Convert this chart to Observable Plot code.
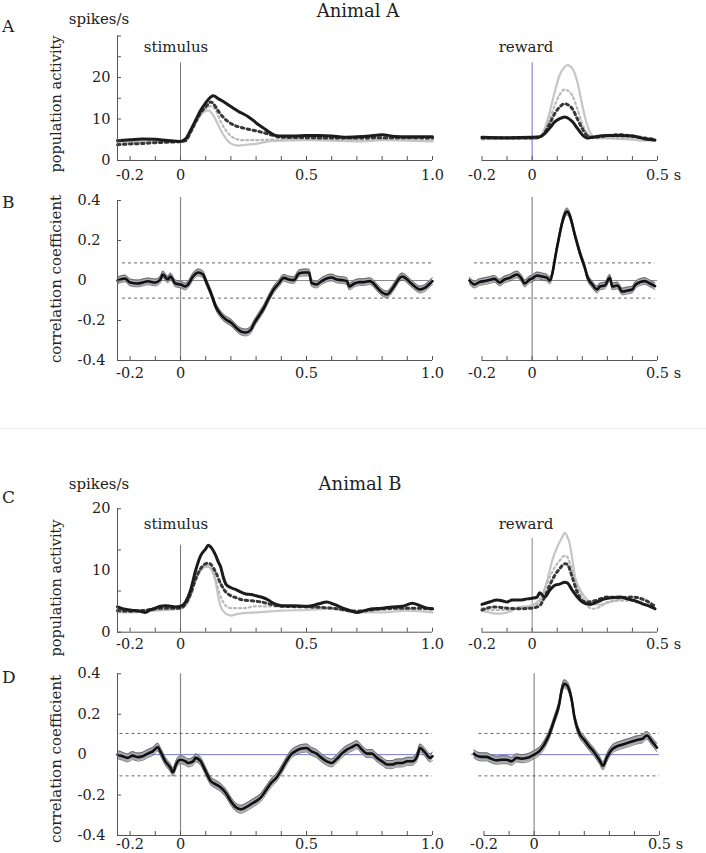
<!DOCTYPE html>
<html><head><meta charset="utf-8">
<script src="https://cdn.jsdelivr.net/npm/d3@7"></script>
<script src="https://cdn.jsdelivr.net/npm/@observablehq/plot@0.6"></script>
<style>
body{margin:0;background:#fff;}
#fig{position:relative;width:706px;height:853px;overflow:hidden;font-family:'DejaVu Serif',serif;color:#222;}
.lbl{position:absolute;white-space:nowrap;line-height:1;}
#fig svg{overflow:visible;}
</style></head><body><div id="fig"></div>
<script>
// ---------------- DATA ----------------
const stimXDomain = [-0.25, 1.0];
const rewXDomain = [-0.2, 0.5];
const stimXTicks = [-0.2,-0.1,0,0.1,0.2,0.3,0.4,0.5,0.6,0.7,0.8,0.9,1.0];
const rewXTicks = [-0.2,-0.1,0,0.1,0.2,0.3,0.4,0.5];
const stimXLabels = [-0.2, 0, 0.5, 1.0];
const rewXLabels = [-0.2, 0];
const rewXLabelUnit = [0.5];
const actADomain = [0, 30];
const actATicks = [0,5,10,15,20,25,30];
const actCDomain = [0, 20];
const actCTicks = [0, 6.67, 13.33, 20];
const actLabels = [0, 10, 20];
const corrDomain = [-0.4, 0.4];
const corrTicks = [-0.4,-0.2,0,0.2,0.4];
const corrLabels = [-0.4,-0.2,0,0.2,0.4];

// Animal A, population activity, stimulus-aligned (t, spikes/s)
const aStimSolidDark = [[-0.25,4.8],[-0.2,5.0],[-0.15,5.2],[-0.1,5.1],[-0.05,4.8],[0,4.6],[0.02,5.2],[0.04,7.3],[0.06,9.7],[0.08,12.1],[0.1,13.9],[0.12,15.3],[0.13,15.6],[0.15,14.9],[0.17,14.2],[0.19,13.4],[0.21,12.6],[0.23,11.8],[0.25,11.2],[0.27,10.5],[0.29,9.6],[0.31,8.6],[0.33,7.8],[0.35,6.9],[0.37,6.2],[0.39,5.9],[0.45,5.9],[0.5,6.0],[0.55,6.0],[0.6,5.9],[0.65,5.6],[0.7,5.7],[0.75,5.9],[0.8,6.2],[0.85,5.8],[0.9,5.7],[0.95,5.7],[1.0,5.7]];
const aStimDottedDark = [[-0.25,3.8],[-0.2,4.0],[-0.15,4.1],[-0.1,4.3],[-0.05,4.4],[0,4.6],[0.02,4.8],[0.04,6.9],[0.06,9.3],[0.08,11.5],[0.1,12.9],[0.12,14.1],[0.13,13.7],[0.15,11.9],[0.17,10.4],[0.19,9.3],[0.21,8.6],[0.25,7.8],[0.28,7.4],[0.33,6.7],[0.37,6.0],[0.4,5.6],[0.5,5.5],[0.6,5.4],[0.7,5.4],[0.8,5.5],[0.9,5.5],[1.0,5.4]];
const aStimDottedLight = [[-0.25,4.4],[-0.1,4.5],[0,4.6],[0.02,4.8],[0.04,6.7],[0.06,9.1],[0.08,11.3],[0.1,12.5],[0.12,13.1],[0.14,12.1],[0.16,9.3],[0.18,7.3],[0.2,5.9],[0.22,5.2],[0.25,4.9],[0.3,4.9],[0.35,5.0],[0.4,5.1],[0.5,5.2],[0.6,5.1],[0.7,5.0],[0.8,5.1],[0.9,5.1],[1.0,5.0]];
const aStimSolidLight = [[-0.25,4.6],[-0.2,4.6],[-0.1,4.8],[0,4.4],[0.02,4.6],[0.04,6.5],[0.06,8.9],[0.08,10.9],[0.1,11.9],[0.11,12.1],[0.13,10.9],[0.15,8.5],[0.17,6.2],[0.19,4.6],[0.21,3.8],[0.23,3.6],[0.26,3.8],[0.3,4.0],[0.35,4.6],[0.4,4.8],[0.5,4.9],[0.6,4.8],[0.7,4.6],[0.8,4.9],[0.9,4.8],[1.0,4.6]];

// Animal A, population activity, reward-aligned
const aRewSolidDark = [[-0.2,5.6],[-0.1,5.5],[0,5.6],[0.03,5.7],[0.05,6.5],[0.07,7.8],[0.09,9.3],[0.11,10.1],[0.13,10.5],[0.14,10.3],[0.16,9.4],[0.18,7.8],[0.2,6.2],[0.22,5.4],[0.24,5.6],[0.3,6.0],[0.35,6.0],[0.4,5.9],[0.45,5.2],[0.49,4.9]];
const aRewDottedDark = [[-0.2,5.4],[-0.1,5.4],[0,5.4],[0.03,5.6],[0.05,6.7],[0.07,8.9],[0.09,11.3],[0.11,12.9],[0.13,13.7],[0.14,13.5],[0.16,12.5],[0.18,10.1],[0.2,7.7],[0.22,6.0],[0.24,5.6],[0.3,6.0],[0.35,6.2],[0.4,5.9],[0.45,5.4],[0.49,5.1]];
const aRewDottedLight = [[-0.2,5.1],[-0.1,5.2],[0,5.2],[0.03,5.6],[0.05,7.3],[0.07,10.1],[0.09,13.3],[0.11,15.9],[0.13,17.1],[0.14,16.9],[0.16,15.7],[0.18,12.5],[0.2,8.9],[0.22,6.5],[0.24,5.4],[0.3,5.4],[0.4,5.4],[0.49,5.1]];
const aRewSolidLight = [[-0.2,5.2],[-0.1,5.2],[0,5.2],[0.03,5.6],[0.05,7.7],[0.07,11.7],[0.09,16.5],[0.11,20.6],[0.13,22.6],[0.14,23.0],[0.16,22.2],[0.18,19.0],[0.2,13.3],[0.22,8.5],[0.24,6.0],[0.26,5.4],[0.3,5.4],[0.35,5.2],[0.4,5.0],[0.45,4.8],[0.49,5.2]];

// Animal A, correlation coefficient (t, r)
const bStim = [[-0.25,0],[-0.22,0.01],[-0.2,-0.01],[-0.17,-0.015],[-0.15,-0.01],[-0.13,-0.004],[-0.1,-0.01],[-0.08,0.005],[-0.07,0.03],[-0.05,0.005],[-0.04,0.02],[-0.02,-0.015],[0,-0.02],[0.02,-0.03],[0.03,-0.02],[0.05,0.02],[0.07,0.04],[0.09,0.03],[0.1,0],[0.12,-0.06],[0.14,-0.13],[0.16,-0.17],[0.18,-0.195],[0.2,-0.21],[0.22,-0.235],[0.24,-0.255],[0.26,-0.26],[0.28,-0.245],[0.29,-0.22],[0.31,-0.18],[0.33,-0.14],[0.35,-0.09],[0.37,-0.045],[0.39,-0.015],[0.41,0.013],[0.43,0.005],[0.45,0.002],[0.47,0.035],[0.49,0.04],[0.51,0.04],[0.52,-0.012],[0.54,-0.02],[0.56,-0.003],[0.58,0.01],[0.6,0.015],[0.62,0.005],[0.64,0.002],[0.66,-0.003],[0.67,-0.03],[0.69,-0.015],[0.71,-0.008],[0.73,-0.008],[0.75,-0.003],[0.76,-0.008],[0.78,-0.035],[0.8,-0.06],[0.82,-0.07],[0.83,-0.06],[0.85,-0.025],[0.87,0.013],[0.88,0.02],[0.9,0.005],[0.91,-0.008],[0.93,-0.03],[0.95,-0.045],[0.97,-0.037],[0.99,-0.015],[1.0,-0.003]];
const bRew = [[-0.25,0],[-0.23,-0.02],[-0.21,-0.008],[-0.19,-0.003],[-0.17,0.002],[-0.15,0.008],[-0.13,-0.01],[-0.11,0.005],[-0.09,0.013],[-0.06,0.03],[-0.04,0.005],[-0.03,-0.015],[-0.01,0.005],[0,0.01],[0.02,0.025],[0.04,0.02],[0.06,0.013],[0.07,0],[0.1,0.17],[0.12,0.29],[0.13,0.33],[0.14,0.345],[0.15,0.325],[0.17,0.23],[0.19,0.14],[0.21,0.065],[0.22,0.02],[0.24,-0.02],[0.26,-0.045],[0.27,-0.03],[0.29,-0.025],[0.31,0.013],[0.32,-0.03],[0.34,-0.025],[0.36,-0.055],[0.38,-0.05],[0.4,-0.045],[0.41,-0.025],[0.43,-0.008],[0.45,-0.003],[0.47,-0.015],[0.49,-0.028]];
const bSem = 0.017;
const bThreshold = 0.088;
const bStimRange = [-0.25, 1.0];
const bStimThrRange = [-0.23, 1.0];
const bRewRange = [-0.25, 0.5];
const bRewThrRange = [-0.23, 0.49];

// Animal B, population activity, stimulus-aligned
const cStimSolidDark = [[-0.25,4.1],[-0.23,3.8],[-0.2,3.6],[-0.18,3.5],[-0.16,3.4],[-0.14,3.2],[-0.12,3.6],[-0.1,3.9],[-0.08,4.2],[-0.06,4.3],[-0.04,4.2],[-0.02,4.1],[0,4.2],[0.02,4.9],[0.04,6.8],[0.06,10.0],[0.08,12.4],[0.1,13.5],[0.11,14.1],[0.12,13.8],[0.14,12.4],[0.15,11.4],[0.16,10.5],[0.17,8.9],[0.18,7.8],[0.2,7.2],[0.22,6.9],[0.24,6.5],[0.26,6.2],[0.28,6.1],[0.3,5.9],[0.32,5.7],[0.34,5.4],[0.36,4.9],[0.38,4.5],[0.4,4.3],[0.45,4.3],[0.5,4.2],[0.55,4.6],[0.58,4.9],[0.61,4.5],[0.65,3.8],[0.68,3.4],[0.7,3.2],[0.73,3.5],[0.76,3.8],[0.8,3.9],[0.84,4.1],[0.88,4.2],[0.92,4.7],[0.95,4.3],[0.98,3.9],[1.0,3.8]];
const cStimDottedDark = [[-0.25,3.5],[-0.2,3.4],[-0.15,3.5],[-0.1,3.8],[-0.05,3.9],[0,3.9],[0.02,4.6],[0.04,6.2],[0.06,8.6],[0.08,10.3],[0.1,11.1],[0.11,11.2],[0.12,11.0],[0.14,9.7],[0.16,7.8],[0.18,6.5],[0.2,5.9],[0.22,5.6],[0.25,5.2],[0.28,5.1],[0.32,4.9],[0.36,4.5],[0.4,4.2],[0.5,4.1],[0.6,3.9],[0.7,3.4],[0.8,3.8],[0.9,3.9],[1.0,3.8]];
const cStimDottedLight = [[-0.25,3.4],[-0.1,3.6],[0,3.9],[0.02,4.5],[0.04,6.1],[0.06,8.5],[0.08,10.2],[0.1,10.8],[0.12,10.5],[0.14,8.4],[0.16,5.7],[0.18,4.3],[0.2,3.9],[0.25,3.9],[0.3,4.2],[0.4,4.2],[0.5,4.1],[0.6,3.9],[0.7,3.5],[0.8,3.6],[0.9,3.8],[1.0,3.6]];
const cStimSolidLight = [[-0.25,3.2],[-0.2,3.2],[-0.1,3.5],[0,3.8],[0.02,4.3],[0.04,5.9],[0.06,8.4],[0.08,10.0],[0.1,10.6],[0.11,10.6],[0.12,10.3],[0.14,8.1],[0.15,5.7],[0.16,4.1],[0.18,3.0],[0.2,2.7],[0.22,2.9],[0.25,3.1],[0.3,3.2],[0.4,3.5],[0.5,3.6],[0.6,3.8],[0.7,3.2],[0.8,3.2],[0.9,3.5],[1.0,3.2]];

// Animal B, population activity, reward-aligned
const cRewSolidDark = [[-0.2,4.5],[-0.17,4.9],[-0.14,5.2],[-0.12,5.1],[-0.1,4.9],[-0.08,5.2],[-0.05,5.2],[-0.02,5.4],[0,5.5],[0.02,5.7],[0.03,6.4],[0.05,5.7],[0.07,6.8],[0.09,7.6],[0.11,7.8],[0.13,8.1],[0.14,8.0],[0.16,6.8],[0.18,5.7],[0.2,4.9],[0.23,4.5],[0.26,4.9],[0.29,5.4],[0.32,5.6],[0.35,5.7],[0.38,5.4],[0.41,5.1],[0.44,4.6],[0.47,4.2],[0.49,3.8]];
const cRewDottedDark = [[-0.2,3.6],[-0.15,4.1],[-0.1,3.9],[-0.05,3.8],[0,3.9],[0.03,4.3],[0.05,5.7],[0.07,7.6],[0.09,9.2],[0.11,10.3],[0.13,11.1],[0.14,11.0],[0.16,8.9],[0.18,6.5],[0.2,5.1],[0.22,4.9],[0.25,5.1],[0.3,5.7],[0.35,5.6],[0.4,5.7],[0.45,5.2],[0.49,4.2]];
const cRewDottedLight = [[-0.2,3.9],[-0.15,3.6],[-0.1,3.6],[-0.05,3.9],[0,4.2],[0.03,4.9],[0.05,6.8],[0.07,8.9],[0.09,10.5],[0.11,11.6],[0.13,12.4],[0.14,12.2],[0.16,10.0],[0.18,7.3],[0.2,5.7],[0.22,4.3],[0.24,3.8],[0.27,4.1],[0.3,4.9],[0.35,5.1],[0.4,5.1],[0.45,4.6],[0.49,4.2]];
const cRewSolidLight = [[-0.2,3.5],[-0.17,3.2],[-0.14,3.0],[-0.11,3.1],[-0.08,3.5],[-0.05,4.1],[-0.02,4.2],[0.01,4.6],[0.04,5.9],[0.06,8.4],[0.08,11.6],[0.1,13.8],[0.12,15.4],[0.13,16.1],[0.14,15.5],[0.15,14.3],[0.16,11.9],[0.17,9.2],[0.19,7.0],[0.21,5.7],[0.23,4.9],[0.25,4.5],[0.28,4.5],[0.31,4.9],[0.34,5.2],[0.37,5.4],[0.4,5.1],[0.43,4.9],[0.46,4.3],[0.49,3.9]];

// Animal B, correlation coefficient
const dStim = [[-0.25,0],[-0.23,-0.008],[-0.21,-0.016],[-0.19,-0.005],[-0.17,-0.012],[-0.15,-0.008],[-0.13,0.005],[-0.11,0.016],[-0.09,0.037],[-0.08,0.016],[-0.06,-0.033],[-0.04,-0.065],[-0.03,-0.087],[-0.02,-0.057],[-0.01,-0.033],[0,-0.025],[0.02,-0.033],[0.03,-0.041],[0.05,-0.033],[0.06,-0.016],[0.08,-0.033],[0.1,-0.082],[0.12,-0.13],[0.14,-0.147],[0.16,-0.163],[0.18,-0.19],[0.2,-0.23],[0.22,-0.26],[0.24,-0.27],[0.26,-0.26],[0.28,-0.245],[0.3,-0.23],[0.32,-0.21],[0.34,-0.175],[0.36,-0.14],[0.38,-0.115],[0.4,-0.077],[0.42,-0.033],[0.44,0.003],[0.46,0.02],[0.48,0.03],[0.5,0.033],[0.52,0.016],[0.54,0.005],[0.56,-0.016],[0.58,-0.033],[0.6,-0.041],[0.62,-0.021],[0.64,0.005],[0.66,0.025],[0.68,0.037],[0.7,0.049],[0.72,0.025],[0.74,0.005],[0.76,0.005],[0.78,-0.016],[0.8,-0.033],[0.82,-0.049],[0.84,-0.049],[0.86,-0.041],[0.88,-0.041],[0.9,-0.033],[0.92,-0.033],[0.94,-0.005],[0.95,0.033],[0.97,0.011],[0.99,-0.016],[1.0,-0.008]];
const dRew = [[-0.24,0.005],[-0.23,-0.005],[-0.21,-0.011],[-0.19,-0.011],[-0.17,-0.021],[-0.15,-0.028],[-0.13,-0.025],[-0.11,-0.025],[-0.09,-0.033],[-0.07,-0.016],[-0.05,-0.02],[-0.02,-0.013],[0,0],[0.02,0.016],[0.04,0.049],[0.06,0.098],[0.08,0.17],[0.1,0.25],[0.11,0.32],[0.12,0.35],[0.13,0.345],[0.15,0.27],[0.16,0.19],[0.18,0.106],[0.2,0.073],[0.22,0.04],[0.24,0.011],[0.26,-0.025],[0.275,-0.055],[0.29,-0.015],[0.31,0.025],[0.33,0.041],[0.35,0.049],[0.37,0.057],[0.39,0.065],[0.41,0.073],[0.43,0.077],[0.45,0.095],[0.47,0.065],[0.49,0.035]];
const dSem = 0.02;
const dThreshold = 0.105;
const dStimRange = [-0.25, 1.0];
const dStimThrRange = [-0.24, 1.0];
const dRewRange = [-0.25, 0.5];
const dRewThrRange = [-0.22, 0.5];

// ---------------- DRAWING ----------------
const fig = document.getElementById("fig");
const FONT = "'DejaVu Serif', serif";
const AXIS = "#555";
const T = d => d[0], V = d => d[1];
const fmt = d => d === 0 ? "0" : (Number.isInteger(d) && Math.abs(d) >= 10 ? String(d) : d.toFixed(1));

const seriesStyle = {
  solidLight:  {stroke: "#c6c6c6", strokeWidth: 2.2},
  dottedLight: {stroke: "#b9b9b9", strokeWidth: 2.2, strokeDasharray: "2,3"},
  dottedDark:  {stroke: "#383838", strokeWidth: 3, strokeDasharray: "2.5,3.5"},
  solidDark:   {stroke: "#1c1c1c", strokeWidth: 3}
};

function mount(cfg, marks) {
  const {frame, box} = cfg;
  const svg = Plot.plot({
    width: box.right - box.left,
    height: box.bottom - box.top,
    marginLeft: frame.x0 - box.left,
    marginRight: box.right - frame.x1,
    marginTop: frame.y0 - box.top,
    marginBottom: box.bottom - frame.y1,
    x: {domain: cfg.xDomain, axis: null},
    y: {domain: cfg.yDomain, axis: null},
    style: {fontFamily: FONT, fontSize: "14.5px", background: "transparent", color: "#222"},
    marks
  });
  svg.style.position = "absolute";
  svg.style.left = box.left + "px";
  svg.style.top = box.top + "px";
  fig.appendChild(svg);
}

function axisMarks(cfg) {
  const [x0, x1] = cfg.xDomain, [y0, y1] = cfg.yDomain;
  const m = [];
  m.push(Plot.ruleY([y0], {x1: x0, x2: x1, stroke: AXIS, strokeWidth: 1}));
  m.push(Plot.ruleX(cfg.xTicks, {x: d => d, y1: y0, y2: y0, insetBottom: 4, stroke: AXIS, strokeWidth: 1}));
  m.push(Plot.axisX({ticks: cfg.xLabels, tickSize: 0, tickPadding: cfg.xPad, tickFormat: fmt, label: null}));
  if (cfg.unitLabel) {
    m.push(Plot.axisX({ticks: cfg.unitLabel, tickSize: 0, tickPadding: cfg.xPad, tickFormat: d => fmt(d) + " s", textAnchor: "start", dx: -11.5, label: null}));
  }
  if (cfg.yAxis) {
    m.push(Plot.ruleX([x0], {y1: y0, y2: y1, stroke: AXIS, strokeWidth: 1}));
    m.push(Plot.ruleY(cfg.yTicks, {y: d => d, x1: x0, x2: x0, insetLeft: 4, stroke: AXIS, strokeWidth: 1}));
    if (cfg.yLabelStart) {
      m.push(Plot.axisY({ticks: cfg.yLabels, tickSize: 0, tickPadding: 0, textAnchor: "start", dx: -40, tickFormat: fmt, label: null}));
    } else {
      m.push(Plot.axisY({ticks: cfg.yLabels, tickSize: 0, tickPadding: 7, tickFormat: fmt, label: null}));
    }
  } else {
    m.push(Plot.axisY({ticks: [], label: null}));
  }
  return m;
}

function activityPanel(cfg, series) {
  const marks = [
    Plot.ruleX([0], {y1: cfg.yDomain[0], y2: cfg.zeroTop, stroke: cfg.zeroColor, strokeWidth: 1})
  ];
  for (const [name, data] of series) {
    marks.push(Plot.line(data, {x: T, y: V, curve: "monotone-x", ...seriesStyle[name]}));
  }
  mount(cfg, marks.concat(axisMarks(cfg)));
}

function corrPanel(cfg) {
  const s = cfg.sem;
  const marks = [
    Plot.ruleY([0], {x1: cfg.range[0], x2: cfg.range[1], stroke: cfg.zeroColor, strokeWidth: 1}),
    Plot.ruleX([0], {y1: cfg.yDomain[0], y2: cfg.vTop, stroke: "#8a8a8a", strokeWidth: 1.2}),
    Plot.ruleY([cfg.thr, -cfg.thr], {x1: cfg.thrRange[0], x2: cfg.thrRange[1], stroke: "#555", strokeWidth: 0.9, strokeDasharray: "3,3"}),
    Plot.areaY(cfg.data, {x: T, y1: d => d[1] - s, y2: d => d[1] + s, fill: "#a8a8b0", curve: "monotone-x"}),
    Plot.line(cfg.data, {x: T, y: d => d[1] + s, stroke: "#4a4a4a", strokeWidth: 0.7, curve: "monotone-x"}),
    Plot.line(cfg.data, {x: T, y: d => d[1] - s, stroke: "#4a4a4a", strokeWidth: 0.7, curve: "monotone-x"}),
    Plot.line(cfg.data, {x: T, y: V, stroke: "#111", strokeWidth: 2.6, curve: "monotone-x"})
  ];
  mount(cfg, marks.concat(axisMarks(cfg)));
}

const leftBox = {left: 55, right: 447};
const rightBox = {left: 447, right: 706};
const leftX = {x0: 117, x1: 432};
const rightX = {x0: 481.5, x1: 657};

// Row A
const rowA = {top: 28, bottom: 190, y0: 35.5, y1: 160};
activityPanel({
  box: {...leftBox, top: rowA.top, bottom: rowA.bottom}, frame: {...leftX, y0: rowA.y0, y1: rowA.y1},
  xDomain: stimXDomain, yDomain: actADomain, xTicks: stimXTicks, xLabels: stimXLabels, xPad: 9,
  yAxis: true, yTicks: actATicks, yLabels: actLabels, zeroTop: 23.5, zeroColor: "#777"
}, [["solidLight", aStimSolidLight], ["dottedLight", aStimDottedLight], ["dottedDark", aStimDottedDark], ["solidDark", aStimSolidDark]]);
activityPanel({
  box: {...rightBox, top: rowA.top, bottom: rowA.bottom}, frame: {...rightX, y0: rowA.y0, y1: rowA.y1},
  xDomain: rewXDomain, yDomain: actADomain, xTicks: rewXTicks, xLabels: rewXLabels, unitLabel: rewXLabelUnit, xPad: 9,
  yAxis: false, zeroTop: 23.5, zeroColor: "#6c6cd2"
}, [["solidLight", aRewSolidLight], ["dottedLight", aRewDottedLight], ["dottedDark", aRewDottedDark], ["solidDark", aRewSolidDark]]);

// Row B
const rowB = {top: 190, bottom: 392, y0: 200, y1: 360};
corrPanel({
  box: {...leftBox, top: rowB.top, bottom: rowB.bottom}, frame: {...leftX, y0: rowB.y0, y1: rowB.y1},
  xDomain: stimXDomain, yDomain: corrDomain, xTicks: stimXTicks, xLabels: stimXLabels, xPad: 7.5,
  yAxis: true, yTicks: corrTicks, yLabels: corrLabels, yLabelStart: true,
  data: bStim, sem: bSem, thr: bThreshold, range: bStimRange, thrRange: bStimThrRange, vTop: 0.415, zeroColor: "#8a8a8a"
});
corrPanel({
  box: {...rightBox, top: rowB.top, bottom: rowB.bottom}, frame: {...rightX, y0: rowB.y0, y1: rowB.y1},
  xDomain: rewXDomain, yDomain: corrDomain, xTicks: rewXTicks, xLabels: rewXLabels, unitLabel: rewXLabelUnit, xPad: 7.5,
  yAxis: false,
  data: bRew, sem: bSem, thr: bThreshold, range: bRewRange, thrRange: bRewThrRange, vTop: 0.415, zeroColor: "#8a8a8a"
});

// Row C
const rowC = {top: 498, bottom: 662, y0: 508.3, y1: 631.7};
activityPanel({
  box: {...leftBox, top: rowC.top, bottom: rowC.bottom}, frame: {...leftX, y0: rowC.y0, y1: rowC.y1},
  xDomain: stimXDomain, yDomain: actCDomain, xTicks: stimXTicks, xLabels: stimXLabels, xPad: 7,
  yAxis: true, yTicks: actCTicks, yLabels: actLabels, zeroTop: 14.1, zeroColor: "#777"
}, [["solidLight", cStimSolidLight], ["dottedLight", cStimDottedLight], ["dottedDark", cStimDottedDark], ["solidDark", cStimSolidDark]]);
activityPanel({
  box: {...rightBox, top: rowC.top, bottom: rowC.bottom}, frame: {...rightX, y0: rowC.y0, y1: rowC.y1},
  xDomain: rewXDomain, yDomain: actCDomain, xTicks: rewXTicks, xLabels: rewXLabels, unitLabel: rewXLabelUnit, xPad: 7,
  yAxis: false, zeroTop: 15.2, zeroColor: "#888"
}, [["solidLight", cRewSolidLight], ["dottedLight", cRewDottedLight], ["dottedDark", cRewDottedDark], ["solidDark", cRewSolidDark]]);

// Row D
const rowD = {top: 663, bottom: 853, y0: 673.3, y1: 835};
corrPanel({
  box: {...leftBox, top: rowD.top, bottom: rowD.bottom}, frame: {...leftX, y0: rowD.y0, y1: rowD.y1},
  xDomain: stimXDomain, yDomain: corrDomain, xTicks: stimXTicks, xLabels: stimXLabels, xPad: 3.5,
  yAxis: true, yTicks: corrTicks, yLabels: corrLabels, yLabelStart: true,
  data: dStim, sem: dSem, thr: dThreshold, range: dStimRange, thrRange: dStimThrRange, vTop: 0.4, zeroColor: "#7a7ad8"
});
corrPanel({
  box: {left: 449, right: 706, top: rowD.top, bottom: rowD.bottom}, frame: {x0: 483.5, x1: 659, y0: rowD.y0, y1: rowD.y1},
  xDomain: rewXDomain, yDomain: corrDomain, xTicks: rewXTicks, xLabels: rewXLabels, unitLabel: rewXLabelUnit, xPad: 3.5,
  yAxis: false,
  data: dRew, sem: dSem, thr: dThreshold, range: dRewRange, thrRange: dRewThrRange, vTop: 0.4, zeroColor: "#7a7ad8"
});

// ---------------- TEXT ----------------
function label(text, {x, y, size = 15, anchor = "middle", rotate = false}) {
  const d = document.createElement("div");
  d.className = "lbl";
  d.textContent = text;
  d.style.fontSize = size + "px";
  d.style.left = x + "px";
  if (rotate) {
    d.style.top = y + "px";
    d.style.transform = "translate(-50%,-50%) rotate(-90deg)";
  } else {
    d.style.top = (y - 0.846 * size) + "px";
    if (anchor === "middle") d.style.transform = "translateX(-50%)";
  }
  fig.appendChild(d);
}
label("Animal A", {x: 358, y: 17.5, size: 18});
label("Animal B", {x: 360, y: 490, size: 18});
label("A", {x: 2, y: 32, size: 17, anchor: "start"});
label("B", {x: 2, y: 208, size: 17, anchor: "start"});
label("C", {x: 2, y: 503, size: 17, anchor: "start"});
label("D", {x: 2, y: 683, size: 17, anchor: "start"});
label("spikes/s", {x: 99, y: 25, size: 15});
label("spikes/s", {x: 99, y: 490, size: 15});
label("stimulus", {x: 176, y: 53, size: 15});
label("reward", {x: 526, y: 53, size: 15});
label("stimulus", {x: 176, y: 530, size: 15});
label("reward", {x: 526, y: 530, size: 15});
label("population activity", {x: 56, y: 104, size: 14.5, rotate: true});
label("population activity", {x: 56, y: 588, size: 14.5, rotate: true});
label("correlation coefficient", {x: 56, y: 279, size: 15, rotate: true});
label("correlation coefficient", {x: 56, y: 759, size: 15, rotate: true});

const sep = document.createElement("div");
sep.style.cssText = "position:absolute;left:0;top:428px;width:706px;height:1px;background:#ececec;";
fig.appendChild(sep);
</script></body></html>
